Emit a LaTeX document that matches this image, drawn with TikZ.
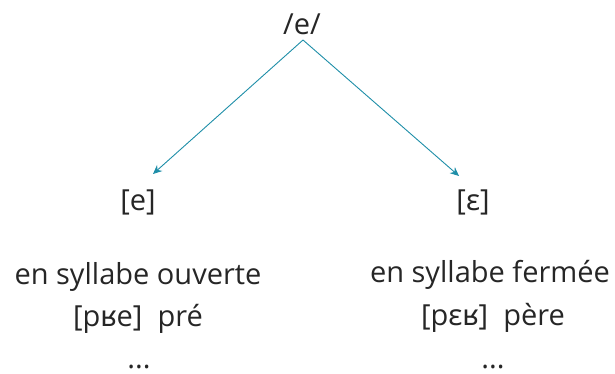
\documentclass[tikz,border=0pt]{standalone}
\usepackage{fontspec}
\setmainfont{Open Sans}
\newfontfamily\ipa{Noto Sans}
\usetikzlibrary{arrows.meta}
\definecolor{teal1}{RGB}{30,142,168}
\begin{document}
\begin{tikzpicture}[x=1pt,y=-1pt,
  lbl/.style={font=\fontsize{29}{34}\selectfont, inner sep=0pt, anchor=base, text=black!85},
  arr/.style={draw=teal1, line width=0.9pt, -{Stealth[length=9pt,width=8pt]}}]
\useasboundingbox (0,0) rectangle (615,374);
\node[lbl] (top) at (302,35) {/e/};
\coordinate (apex) at (303,40);
\coordinate (lt) at (153,174);
\coordinate (rt) at (459,176);
\node[lbl] (e) at (138,210) {[e]};
\node[lbl] (eps) at (473,210) {[{\ipa ɛ}]};
\node[lbl] (l1) at (138,284) {en syllabe ouverte};
\node[lbl] (l2) at (138,326) {[p{\ipa ʁ}e]\ \ pré};
\node[lbl] (l3) at (139,368) {...};
\node[lbl] (r1) at (490,282) {en syllabe fermée};
\node[lbl] (r2) at (493,325) {[p{\ipa ɛʁ}]\ \ père};
\node[lbl] (r3) at (493,368) {...};
\draw[arr] (apex) -- (lt);
\draw[arr] (apex) -- (rt);
\end{tikzpicture}
\end{document}
